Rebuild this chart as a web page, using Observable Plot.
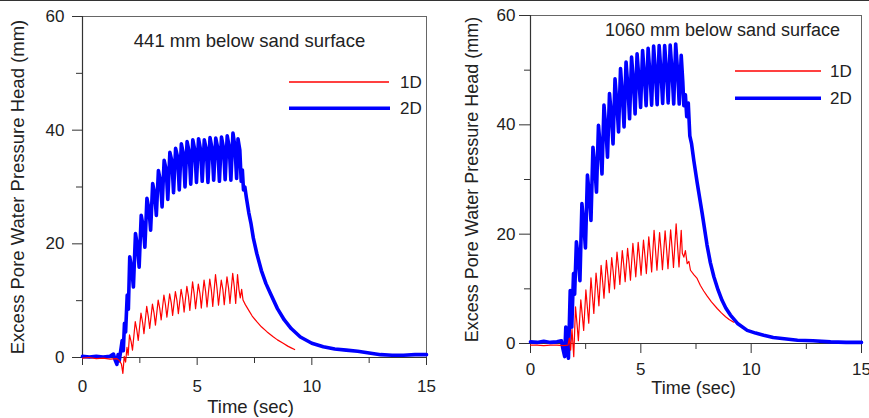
<!DOCTYPE html>
<html><head><meta charset="utf-8">
<script src="https://cdn.jsdelivr.net/npm/d3@7"></script>
<script src="https://cdn.jsdelivr.net/npm/@observablehq/plot@0.6"></script>
<style>
body{margin:0;background:#fff;}
#wrap{position:relative;width:869px;height:418px;overflow:hidden;background:#fff;font-family:"Liberation Sans",Arial,sans-serif;color:#222;}
#topline{position:absolute;left:0;top:0;width:869px;height:1px;background:#333;}
.panel{position:absolute;top:0;}
.lg{position:absolute;overflow:visible;}
.lt{position:absolute;font-size:17px;line-height:17px;color:#222;}
</style></head>
<body>
<div id="wrap">
  <div class="panel" id="p1" style="left:0;width:435px"></div>
  <div class="panel" id="p2" style="left:435px;width:434px"></div>
  <div id="topline"></div>
  <svg class="lg" style="left:289px;top:70px" width="102" height="45">
    <line x1="0" x2="100" y1="12" y2="12" stroke="#ff0000" stroke-width="1.4"/>
    <line x1="0" x2="101" y1="38.3" y2="38.3" stroke="#0000ff" stroke-width="3.6"/>
  </svg>
  <div class="lt" style="left:400px;top:73.5px">1D</div>
  <div class="lt" style="left:400px;top:100px">2D</div>
  <svg class="lg" style="left:735px;top:60px" width="88" height="45">
    <line x1="0" x2="86" y1="11" y2="11" stroke="#ff0000" stroke-width="1.4"/>
    <line x1="0" x2="86" y1="38.3" y2="38.3" stroke="#0000ff" stroke-width="3.6"/>
  </svg>
  <div class="lt" style="left:830px;top:63px">1D</div>
  <div class="lt" style="left:830px;top:90px">2D</div>
</div>
<script>
// Time (sec), excess pore water pressure head (mm)
const xTicks = [0, 5, 10, 15];
const xMinorTicks = [2.5, 7.5, 12.5];
const yTicks = [0, 20, 40, 60];
const yMinorTicks = [10, 30, 50];
const seriesNames = ["1D", "2D"];
const titles = ["441 mm below sand surface", "1060 mm below sand surface"];

// 441 mm, 1D
const left1D = [[0,-0.1],[0.3,0.0],[0.6,-0.2],[0.9,-0.1],[1.2,-0.3],[1.5,-0.2],[1.62,-0.6],[1.7,-1.2],[1.76,-2.8],[1.82,0.2],[1.88,-0.8],[1.94,1.8],[1.99,0.4],
[2.05,4.0],[2.12,2.8],[2.18,1.3],[2.3,6.3],[2.37,4.8],[2.43,3.0],[2.55,7.8],[2.62,6.2],[2.68,4.2],[2.8,9.0],[2.87,7.2],[2.93,5.1],
[3.05,9.4],[3.12,7.8],[3.18,5.7],[3.3,10.1],[3.37,8.6],[3.43,6.6],[3.55,11.0],[3.62,9.2],[3.68,7.1],[3.8,11.2],[3.87,9.6],[3.93,7.4],
[4.05,11.6],[4.12,10.0],[4.18,7.7],[4.3,12.0],[4.37,10.4],[4.43,8.0],[4.55,12.5],[4.62,10.8],[4.68,8.3],[4.8,13.3],[4.87,11.2],[4.93,8.6],
[5.05,12.9],[5.12,11.3],[5.18,8.7],[5.3,13.6],[5.37,11.6],[5.43,8.9],[5.55,13.8],[5.62,11.8],[5.68,9.0],[5.8,14.6],[5.87,12.0],[5.93,9.2],
[6.05,13.6],[6.12,12.0],[6.18,9.3],[6.3,14.2],[6.37,12.2],[6.43,9.5],[6.55,14.8],[6.62,12.4],[6.68,9.5],[6.76,14.6],[6.82,12.0],
[6.88,10.5],[6.94,12.0],[7.0,10.1],[7.1,9.3],[7.25,8.3],[7.4,7.3],[7.6,6.3],[7.8,5.4],[8.05,4.5],[8.3,3.7],[8.5,3.1],[8.75,2.5],[8.95,2.0],[9.1,1.7],[9.25,1.4]];

// 441 mm, 2D
const left2D = [[0,0.2],[0.3,0.1],[0.6,0.2],[0.9,0.1],[1.2,0.2],[1.35,0.6],[1.42,-0.4],[1.5,-1.2],[1.55,0.5],[1.6,-0.6],[1.66,1.0],[1.73,3.0],[1.78,1.2],[1.83,6.0],[1.88,4.5],[1.95,11.0],[2.0,8.5],
[2.06,17.7],[2.15,15.5],[2.22,12.4],[2.31,21.8],[2.4,19.5],[2.47,15.9],[2.56,25.0],[2.65,23.0],[2.72,19.4],[2.81,28.0],[2.9,26.0],[2.97,22.4],
[3.06,30.6],[3.15,28.8],[3.22,25.0],[3.31,32.9],[3.4,31.0],[3.47,26.5],[3.56,34.7],[3.65,33.0],[3.72,27.8],[3.81,36.1],[3.9,34.5],[3.97,29.0],
[4.06,36.8],[4.15,35.2],[4.22,29.5],[4.31,37.6],[4.4,35.8],[4.47,30.0],[4.56,38.0],[4.65,36.2],[4.72,30.5],[4.81,38.3],[4.9,36.4],[4.97,30.8],
[5.06,38.5],[5.15,36.5],[5.22,31.0],[5.31,38.3],[5.4,36.6],[5.47,30.8],[5.56,38.7],[5.65,36.7],[5.72,31.2],[5.81,38.6],[5.9,36.8],[5.97,31.0],
[6.06,38.8],[6.15,36.8],[6.22,31.3],[6.31,39.0],[6.4,37.0],[6.47,31.2],[6.56,39.5],[6.65,37.0],[6.72,31.5],[6.78,38.5],[6.86,36.5],[6.92,31.0],
[6.97,33.0],[7.02,29.5],[7.08,30.0],[7.15,28.0],[7.25,25.5],[7.35,23.5],[7.45,21.0],[7.6,18.3],[7.8,15.3],[8.0,13.0],[8.2,11.2],[8.5,8.6],[8.8,6.6],
[9.1,5.1],[9.5,3.6],[10.0,2.5],[10.5,1.9],[11.0,1.5],[11.5,1.3],[12.0,1.1],[12.5,0.8],[13.0,0.5],[13.5,0.4],[14.0,0.4],[14.5,0.5],[15.0,0.5]];

// 1060 mm, 1D
const right1D = [[0,-0.3],[0.3,-0.3],[0.6,-0.4],[0.9,-0.3],[1.2,-0.3],[1.5,-0.4],[1.7,-0.3],[1.76,1.0],[1.82,-1.2],[1.88,2.6],[1.96,-2.4],
[2.04,6.7],[2.11,3.5],[2.17,0.5],[2.28,8.0],[2.35,5.0],[2.41,2.4],[2.51,9.8],[2.58,6.5],[2.64,3.7],[2.74,12.0],[2.81,8.5],[2.87,5.5],
[2.97,12.9],[3.04,10.0],[3.1,6.9],[3.2,14.3],[3.27,11.3],[3.33,8.3],[3.44,15.2],[3.51,12.3],[3.57,9.3],[3.68,15.7],[3.75,13.0],[3.81,10.0],
[3.92,16.7],[3.99,13.8],[4.05,10.8],[4.16,17.0],[4.23,14.2],[4.29,11.3],[4.4,17.4],[4.47,14.6],[4.53,11.6],[4.64,18.3],[4.71,15.2],[4.77,12.2],
[4.88,18.5],[4.95,15.5],[5.01,12.5],[5.12,18.9],[5.19,15.9],[5.25,12.8],[5.36,19.5],[5.43,16.3],[5.49,13.1],[5.6,20.7],[5.67,16.8],[5.73,13.4],
[5.85,20.3],[5.92,16.9],[5.98,13.5],[6.1,20.6],[6.17,17.1],[6.23,13.7],[6.35,20.8],[6.42,17.3],[6.48,13.9],[6.6,21.9],[6.67,17.5],[6.73,14.0],
[6.83,20.7],[6.88,16.5],[6.95,15.8],[7.02,17.0],[7.1,14.6],[7.18,15.0],[7.25,13.4],[7.4,12.6],[7.55,11.9],[7.7,10.6],[7.85,9.6],[8.0,8.7],
[8.2,7.6],[8.46,6.4],[8.65,5.6],[8.84,4.9],[9.0,4.4],[9.21,3.9]];

// 1060 mm, 2D
const right2D = [[0,0.3],[0.3,0.2],[0.6,0.4],[0.9,0.2],[1.2,0.3],[1.4,0.5],[1.47,-1.0],[1.55,-2.4],[1.6,3.0],[1.66,-0.5],[1.72,-2.7],[1.8,9.7],[1.87,3.0],[1.95,12.8],[2.0,9.0],
[2.08,18.6],[2.17,15.5],[2.24,11.5],[2.33,25.6],[2.42,21.5],[2.49,17.5],[2.58,30.8],[2.67,27.0],[2.74,22.5],[2.83,35.9],[2.92,32.0],[2.99,27.7],
[3.08,39.9],[3.17,35.5],[3.24,31.0],[3.33,43.6],[3.42,39.0],[3.49,34.1],[3.58,45.7],[3.67,41.5],[3.74,36.5],[3.83,48.4],[3.92,43.5],[3.99,38.7],
[4.08,50.3],[4.17,45.0],[4.24,39.6],[4.33,51.5],[4.42,46.5],[4.49,41.1],[4.58,52.4],[4.67,47.5],[4.74,42.0],[4.83,53.0],[4.92,48.0],[4.99,43.2],
[5.08,53.6],[5.17,48.5],[5.24,43.5],[5.33,54.0],[5.42,48.8],[5.49,43.6],[5.58,54.4],[5.67,49.0],[5.74,43.7],[5.83,54.5],[5.92,49.2],[5.99,43.9],
[6.08,54.5],[6.17,49.3],[6.24,44.0],[6.33,54.6],[6.42,49.3],[6.49,43.8],[6.58,54.8],[6.67,49.5],[6.74,43.8],[6.83,52.7],[6.9,48.0],
[6.95,43.5],[7.02,45.5],[7.08,41.5],[7.15,44.0],[7.22,38.0],[7.3,36.5],[7.4,33.5],[7.55,29.5],[7.78,23.8],[8.0,18.0],[8.15,14.8],[8.31,12.2],
[8.5,9.8],[8.68,7.9],[8.85,6.5],[9.06,5.2],[9.4,3.6],[9.82,2.4],[10.2,1.9],[10.57,1.5],[11.0,1.1],[11.4,0.9],[12.1,0.6],[12.8,0.5],[13.6,0.3],[14.3,0.2],[15.0,0.2]];

const font = "Liberation Sans, Arial, Helvetica, sans-serif";

function panel(o) {
  return Plot.plot({
    width: o.width, height: 418,
    marginLeft: o.ml, marginRight: o.mr, marginTop: o.mt, marginBottom: o.mb,
    style: {fontFamily: font, background: "transparent", color: "#222", overflow: "visible", maxWidth: "none"},
    x: {domain: [0, 15]},
    y: {domain: [0, 60]},
    marks: [
      Plot.frame({stroke: "#666", strokeWidth: 1}),
      Plot.axisX(xTicks, {tickSize: o.tsx, tickPadding: o.tpx, fontSize: o.fsTick, label: null, stroke: "#333"}),
      Plot.axisX(xMinorTicks, {tickSize: 6, tickFormat: () => "", label: null, stroke: "#333"}),
      Plot.axisY(yTicks, {tickSize: o.tsy, tickPadding: o.tpy, fontSize: o.fsTick, label: null, stroke: "#333"}),
      Plot.axisY(yMinorTicks, {tickSize: 6, tickFormat: () => "", label: null, stroke: "#333"}),
      Plot.ruleX([0], {stroke: "#333", strokeWidth: 1.2}),
      Plot.ruleY([0], {stroke: "#333", strokeWidth: 1.2}),
      Plot.line(o.d2, {x: d => d[0], y: d => d[1], stroke: "#0000ff", strokeWidth: 3.6, strokeLinejoin: "round", strokeLinecap: "round"}),
      Plot.line(o.d1, {x: d => d[0], y: d => d[1], stroke: "#ff0000", strokeWidth: 1.2, strokeLinejoin: "round"}),
      Plot.text([o.title], {frameAnchor: "top", textAnchor: "middle", lineAnchor: "middle", dx: o.tdx, dy: o.tdy, fontSize: o.fsTitle, fill: "#222"}),
      Plot.text(["Time (sec)"], {frameAnchor: "bottom", textAnchor: "middle", lineAnchor: "middle", dx: o.xldx, dy: o.xldy, fontSize: o.fsLabel, fill: "#222"}),
      Plot.text(["Excess Pore Water Pressure Head (mm)"], {frameAnchor: "left", textAnchor: "middle", lineAnchor: "middle", rotate: -90, dx: o.yldx, fontSize: o.fsLabel, fill: "#222"})
    ]
  });
}

document.getElementById("p1").appendChild(panel({
  width: 435, ml: 82, mr: 9, mt: 16, mb: 61, d1: left1D, d2: left2D, title: titles[0],
  tsx: 8, tpx: 14, tsy: 10, tpy: 8, fsTick: 17, fsTitle: 18.5, fsLabel: 18.5,
  tdx: -5, tdy: 25, xldx: -4, xldy: 50, yldx: -64
}));
document.getElementById("p2").appendChild(panel({
  width: 434, ml: 95, mr: 8, mt: 15, mb: 75, d1: right1D, d2: right2D, title: titles[1],
  tsx: 10, tpx: 9, tsy: 11, tpy: 4, fsTick: 17, fsTitle: 18, fsLabel: 18,
  tdx: 26.5, tdy: 15, xldx: -2.5, xldy: 45, yldx: -58
}));
</script>
</body></html>
